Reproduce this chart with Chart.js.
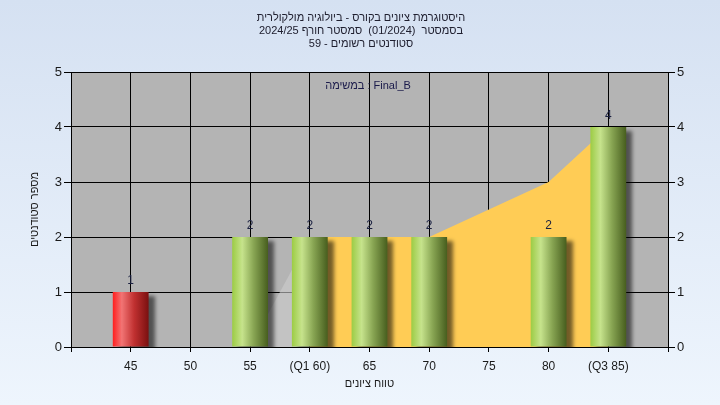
<!DOCTYPE html>
<html>
<head>
<meta charset="utf-8">
<script src="https://cdn.jsdelivr.net/npm/chart.js@4"></script>
<style>
  html, body { margin: 0; padding: 0; }
  #wrap { width: 720px; height: 405px; background: linear-gradient(#d5e1f2, #eef5fd); }
</style>
</head>
<body>
<div id="wrap"><canvas id="histo" width="720" height="405"></canvas></div>
<script>
const grades = [45, 50, 55, 60, 65, 70, 75, 80, 85];
const gradeLabels = ['45', '50', '55', '(Q1 60)', '65', '70', '75', '80', '(Q3 85)'];
const counts = [1, 0, 2, 2, 2, 2, 0, 2, 4];
const areaValues = [0, 0, 0, 2, 2, 2, 2.5, 3, 4];
const titleLines = [
    'היסטוגרמת ציונים בקורס - ביולוגיה מולקולרית',
    'בסמסטר  (01/2024)  סמסטר חורף 2024/25',
    'סטודנטים רשומים - 59'
];
const taskLabel = 'במשימה : Final_B';

const fontName = "'Liberation Sans', Arial, sans-serif";

function barFill(c) {
    const chart = c.chart;
    const red = c.dataIndex === 0;
    if (!chart.chartArea || c.type !== 'data') return red ? '#d22' : '#8bb040';
    const xs = chart.scales.x;
    const cx = xs.getPixelForValue(grades[c.dataIndex]);
    const half = (xs.getPixelForValue(45) - xs.getPixelForValue(40)) * 0.3;
    const g = chart.ctx.createLinearGradient(cx - half, 0, cx + half, 0);
    if (red) {
        g.addColorStop(0, '#ff1e1e');
        g.addColorStop(0.25, '#f27474');
        g.addColorStop(0.6, '#c03030');
        g.addColorStop(1, '#7a1010');
    } else {
        g.addColorStop(0, '#9ccc44');
        g.addColorStop(0.28, '#c6e38c');
        g.addColorStop(0.6, '#88a553');
        g.addColorStop(1, '#475e1e');
    }
    return g;
}

const plotBack = {
    id: 'plotBack',
    beforeDraw(chart) {
        const a = chart.chartArea;
        const ctx = chart.ctx;
        ctx.save();
        ctx.fillStyle = '#b4b4b4';
        ctx.fillRect(a.left, a.top, a.right - a.left, a.bottom - a.top);
        ctx.restore();
    }
};

const barShadow = {
    id: 'barShadow',
    beforeDatasetDraw(chart, args) {
        if (args.index !== 0) return;
        const ctx = chart.ctx;
        ctx.save();
        ctx.shadowColor = 'rgba(0,0,0,0.55)';
        ctx.shadowBlur = 4;
        ctx.shadowOffsetX = 6;
        ctx.shadowOffsetY = 4;
    },
    afterDatasetDraw(chart, args) {
        if (args.index !== 0) return;
        chart.ctx.restore();
    }
};

const texts = {
    id: 'texts',
    afterDatasetsDraw(chart) {
        const ctx = chart.ctx;
        ctx.save();
        // values above bars
        ctx.font = '12px ' + fontName;
        ctx.fillStyle = '#1a2040';
        ctx.textAlign = 'center';
        ctx.textBaseline = 'alphabetic';
        chart.getDatasetMeta(0).data.forEach((bar, i) => {
            if (!counts[i]) return;
            ctx.fillText(String(counts[i]), bar.x, bar.y - 8);
        });
        // task label
        ctx.font = '11px ' + fontName;
        ctx.fillStyle = '#1a1a4a';
        ctx.textBaseline = 'middle';
        ctx.fillText(taskLabel, 368, 86);
        // title
        ctx.direction = 'rtl';
        ctx.fillStyle = '#202030';
        titleLines.forEach((t, i) => ctx.fillText(t, 361, 18 + i * 13));
        ctx.restore();
    }
};

new Chart(document.getElementById('histo'), {
    type: 'bar',
    data: {
        datasets: [{
            type: 'bar',
            data: grades.map((g, i) => ({x: g, y: counts[i]})),
            backgroundColor: barFill,
            borderWidth: 0,
            barPercentage: 0.6,
            categoryPercentage: 1,
            order: 1
        }, {
            type: 'line',
            data: grades.map((g, i) => ({x: g, y: areaValues[i]})),
            fill: 'origin',
            backgroundColor: '#ffcc55',
            borderWidth: 0,
            pointRadius: 0,
            tension: 0,
            segment: {
                backgroundColor: c => c.p0DataIndex === 2 ? 'rgba(205,205,205,0.6)' : '#ffcc55'
            },
            order: 2
        }]
    },
    options: {
        responsive: false,
        animation: false,
        devicePixelRatio: 1,
        layout: { padding: { top: 72, left: 0, right: 0, bottom: 0 } },
        plugins: {
            legend: { display: false },
            tooltip: { enabled: false },
            title: { display: false }
        },
        scales: {
            x: {
                type: 'linear',
                min: 40,
                max: 90,
                offset: false,
                afterFit: s => { s.height = 58; },
                ticks: {
                    stepSize: 5,
                    autoSkip: false,
                    maxRotation: 0,
                    padding: 7,
                    color: '#1a1a1a',
                    font: { family: fontName, size: 12 },
                    callback: v => {
                        const i = grades.indexOf(v);
                        return i < 0 ? '' : gradeLabels[i];
                    }
                },
                grid: { offset: false, color: '#000', lineWidth: 1, tickLength: 5 },
                border: { color: '#000' },
                title: {
                    display: true,
                    text: 'טווח ציונים',
                    color: '#1a1a1a',
                    font: { family: fontName, size: 11 },
                    padding: { top: 0, bottom: 14 }
                }
            },
            y: {
                position: 'left',
                min: 0,
                max: 5,
                afterFit: s => { s.width = 71; },
                ticks: {
                    stepSize: 1,
                    padding: 2,
                    color: '#1a1a1a',
                    font: { family: fontName, size: 13 }
                },
                grid: { color: '#000', lineWidth: 1, tickLength: 7 },
                border: { color: '#000' },
                title: {
                    display: true,
                    text: 'מספר סטודנטים',
                    color: '#1a1a1a',
                    font: { family: fontName, size: 11 },
                    padding: { top: 28, bottom: 0 }
                }
            },
            y2: {
                position: 'right',
                min: 0,
                max: 5,
                afterFit: s => { s.width = 52; },
                ticks: {
                    stepSize: 1,
                    padding: 2,
                    color: '#1a1a1a',
                    font: { family: fontName, size: 13 }
                },
                grid: { drawOnChartArea: false, color: '#000', tickLength: 7 },
                border: { color: '#000' }
            }
        }
    },
    plugins: [plotBack, barShadow, texts]
});
</script>
</body>
</html>
